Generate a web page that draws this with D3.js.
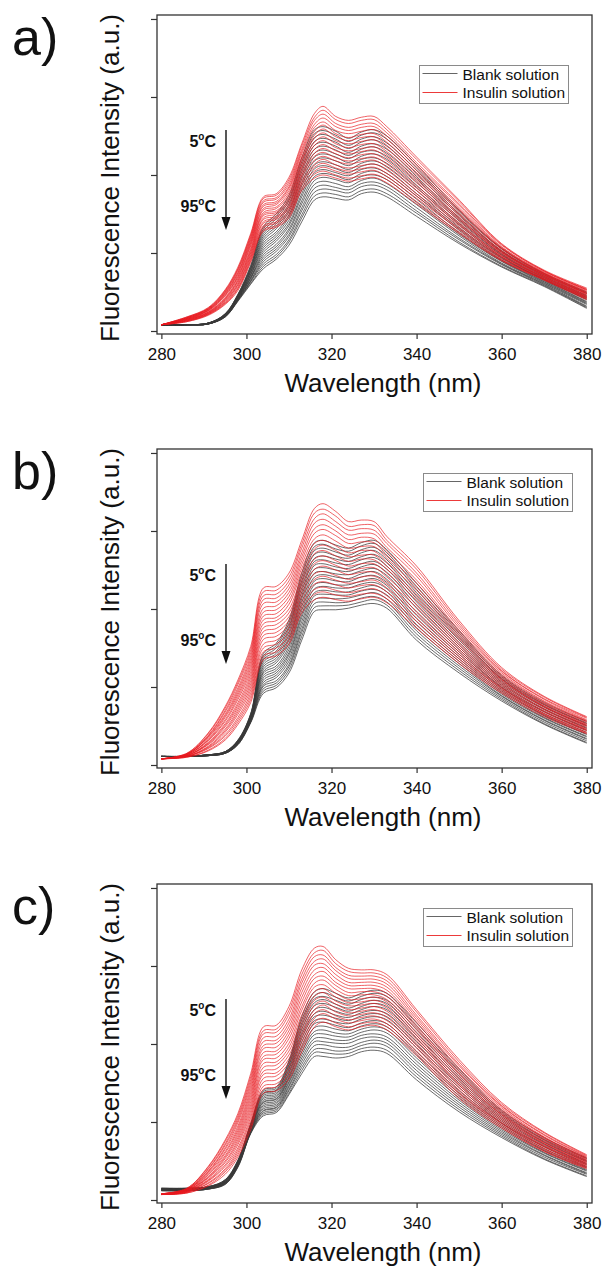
<!DOCTYPE html>
<html>
<head>
<meta charset="utf-8">
<script src="https://cdn.jsdelivr.net/npm/d3@7"></script>
<style>
  body { margin: 0; background: #fff; }
  svg { display: block; font-family: "Liberation Sans", Arial, sans-serif; }
</style>
</head>
<body>
<svg id="chart" width="604" height="1273"></svg>
<script>
const wavelengths = [280, 286, 291, 295, 298, 301, 304, 307, 310, 313, 316, 318, 321, 324, 327, 330, 333, 340, 350, 360, 370, 380];
// one spectrum per temperature, 5 -> 95 C
const temperatures = [5, 10, 15, 20, 25, 30, 35, 40, 45, 50, 55, 60, 65, 70, 75, 80, 85, 90, 95];
const xTicks = [280, 300, 320, 340, 360, 380];
const yTicks = [0, 100, 200, 300, 400];
const panelLabels = ["a)", "b)", "c)"];

// panel a
const blankA = [
  [8,8,10,22,47,84,134,150,174,222,258,262,256,247,255,258,250,213,155,106,74,50],
  [8,8,10,22,47,83,131,147,170,217,253,257,251,243,251,254,246,209,153,105,73,49],
  [8,8,10,22,46,81,128,144,167,213,248,252,246,238,246,249,241,206,150,103,72,48],
  [8,8,10,21,46,80,125,140,163,208,243,247,242,234,242,245,237,202,148,102,71,46],
  [8,8,10,21,45,79,122,137,160,204,238,242,237,229,237,240,233,198,145,101,70,45],
  [8,8,10,21,45,77,119,134,156,199,233,237,232,225,233,236,228,195,143,99,69,44],
  [8,8,10,21,44,76,116,131,153,195,228,232,227,221,229,231,224,191,141,98,68,43],
  [8,8,10,20,44,75,113,127,149,190,223,227,223,216,224,227,220,187,138,97,67,42],
  [8,8,10,20,43,73,110,124,146,186,218,222,218,212,220,222,215,184,136,95,66,41],
  [8,8,10,20,43,72,107,121,142,181,213,217,213,207,215,218,211,180,133,94,66,40],
  [8,8,9,20,42,71,104,118,138,176,208,212,208,203,211,214,207,176,131,93,65,38],
  [8,8,9,20,42,69,101,115,135,172,203,207,203,199,207,209,202,173,129,91,64,37],
  [8,8,9,19,41,68,98,111,131,167,198,202,199,194,202,205,198,169,126,90,63,36],
  [8,8,9,19,41,67,95,108,128,163,193,197,194,190,198,200,194,165,124,89,62,35],
  [8,8,9,19,40,65,92,105,124,158,188,192,189,185,193,196,189,162,122,87,61,34],
  [8,8,9,19,40,64,89,102,121,154,183,187,184,181,189,191,185,158,119,86,60,32],
  [8,8,9,18,39,63,86,98,117,149,178,182,180,177,185,187,181,154,117,85,59,31],
  [8,8,9,18,39,61,83,95,114,145,173,177,175,172,180,182,176,151,114,83,58,30],
  [8,8,9,18,38,60,80,92,110,140,168,172,170,168,176,178,172,147,112,82,57,29]
];
const insulinA = [
  [8,18,30,53,82,125,172,176,197,240,279,288,275,270,274,275,262,223,168,112,78,55],
  [8,18,29,52,80,123,170,174,194,237,274,283,271,266,270,271,258,220,166,111,77,54],
  [8,17,29,51,79,121,167,171,191,233,270,278,266,261,265,266,254,216,163,110,77,53],
  [8,17,28,50,77,119,165,169,188,230,265,273,262,257,261,262,250,213,161,108,76,53],
  [8,17,28,49,75,117,162,166,185,227,261,268,257,253,256,258,246,210,158,107,75,52],
  [8,16,27,48,74,115,160,164,183,223,256,264,253,248,252,253,242,206,156,106,74,51],
  [8,16,27,47,72,113,157,162,180,220,251,259,249,244,248,249,238,203,154,105,74,50],
  [8,16,26,46,70,111,155,159,177,217,247,254,244,240,243,245,234,200,151,103,73,49],
  [8,15,26,45,69,109,152,157,174,213,242,249,240,235,239,240,230,196,149,102,72,48],
  [8,15,25,43,67,106,150,154,171,210,238,244,235,231,234,236,226,193,146,101,72,48],
  [8,15,24,42,65,104,148,152,168,207,233,239,231,227,230,232,222,190,144,100,71,47],
  [8,14,24,41,64,102,145,150,165,203,228,234,227,222,226,227,218,186,142,99,70,46],
  [8,14,23,40,62,100,143,147,162,200,224,229,222,218,221,223,214,183,139,97,69,45],
  [8,14,23,39,60,98,140,145,159,197,219,224,218,214,217,219,210,180,137,96,69,44],
  [8,13,22,38,59,96,138,143,157,193,214,220,213,209,212,214,206,176,135,95,68,43],
  [8,13,22,37,57,94,135,140,154,190,210,215,209,205,208,210,202,173,132,94,67,43],
  [8,13,21,36,55,92,133,138,151,187,205,210,205,201,204,206,198,170,130,92,66,42],
  [8,12,21,35,54,90,130,135,148,183,201,205,200,196,199,201,194,166,127,91,66,41],
  [8,12,20,34,52,88,128,133,145,180,196,200,196,192,195,197,190,163,125,90,65,40]
];

// panel b
const blankB = [
  [11,11,13,17,32,66,143,156,186,246,285,288,282,278,285,288,276,233,172,115,80,56],
  [11,11,13,17,32,65,140,153,182,241,280,283,277,274,281,284,272,229,169,113,78,54],
  [11,11,13,17,31,65,137,150,178,236,275,278,273,269,276,279,268,225,166,111,77,53],
  [11,11,13,17,31,64,135,146,175,232,270,273,268,265,272,275,263,221,163,110,75,51],
  [11,11,13,17,31,63,132,143,171,227,265,268,264,261,267,270,259,217,160,108,74,50],
  [11,11,13,16,30,63,129,140,167,222,261,263,259,257,263,266,255,213,157,106,72,48],
  [11,11,13,16,30,62,126,137,163,217,256,258,254,252,258,261,251,209,154,104,71,47],
  [11,11,13,16,30,61,123,134,160,213,251,253,250,248,254,257,247,205,151,102,69,45],
  [11,11,13,16,29,61,120,131,156,208,246,248,245,244,249,252,243,201,148,100,68,44],
  [11,11,13,16,29,60,118,127,152,203,241,244,241,239,245,248,238,196,145,99,66,42],
  [11,11,12,16,29,59,115,124,148,198,236,239,236,235,241,243,234,192,142,97,64,40],
  [11,11,12,16,28,59,112,121,144,193,231,234,231,231,236,239,230,188,139,95,63,39],
  [11,11,12,16,28,58,109,118,141,189,226,229,227,227,232,234,226,184,136,93,61,37],
  [11,11,12,16,28,57,106,115,137,184,221,224,222,222,227,230,222,180,133,91,60,36],
  [11,11,12,15,27,57,103,112,133,179,217,219,218,218,223,225,218,176,130,89,58,34],
  [11,11,12,15,27,56,101,108,129,174,212,214,213,214,218,221,213,172,127,88,57,33],
  [11,11,12,15,27,55,98,105,126,170,207,209,208,209,214,216,209,168,124,86,55,31],
  [11,11,12,15,26,55,95,102,122,165,202,204,204,205,209,212,205,164,121,84,53,29],
  [11,11,12,15,26,54,92,99,118,160,197,199,199,201,205,207,201,160,118,82,52,28]
];
const insulinB = [
  [8,15,41,75,109,152,227,229,246,288,329,335,325,312,314,312,293,255,185,125,88,62],
  [8,15,40,73,106,148,222,224,241,283,323,328,319,306,308,307,288,251,182,123,87,61],
  [8,14,38,70,103,144,217,219,236,278,316,322,312,301,303,301,284,246,179,121,85,60],
  [8,14,37,68,99,140,212,214,231,272,310,315,306,295,297,296,279,242,176,120,84,58],
  [8,14,36,65,96,136,207,209,226,267,303,308,300,289,292,290,274,237,173,118,82,57],
  [8,14,35,63,93,132,201,204,221,262,297,302,294,284,286,285,269,233,170,116,81,56],
  [8,13,33,61,90,128,196,199,216,257,290,295,287,278,280,280,265,228,167,114,79,55],
  [8,13,32,58,87,124,191,194,211,252,284,288,281,272,275,274,260,224,164,112,78,53],
  [8,13,31,56,84,120,186,189,206,247,277,282,275,267,269,269,255,219,161,110,76,52],
  [8,12,29,53,80,116,181,185,200,241,271,275,268,261,264,263,251,215,157,109,75,51],
  [8,12,28,51,77,112,176,180,195,236,264,268,262,255,258,258,246,211,154,107,74,50],
  [8,12,27,49,74,108,171,175,190,231,258,262,256,250,252,253,241,206,151,105,72,49],
  [8,12,26,46,71,104,166,170,185,226,251,255,250,244,247,247,236,202,148,103,71,47],
  [8,11,24,44,68,100,161,165,180,221,245,248,243,238,241,242,232,197,145,101,69,46],
  [8,11,23,42,65,96,155,160,175,216,238,242,237,233,235,237,227,193,142,99,68,45],
  [8,11,22,39,61,92,150,155,170,210,232,235,231,227,230,231,222,188,139,98,66,44],
  [8,11,21,37,58,88,145,150,165,205,225,228,224,221,224,226,217,184,136,96,65,42],
  [8,10,19,34,55,84,140,145,160,200,219,222,218,216,219,220,213,179,133,94,64,41],
  [8,10,18,32,52,80,135,140,155,195,212,215,212,210,213,215,208,175,130,92,62,40]
];

// panel c
const blankC = [
  [15,15,17,26,51,98,141,145,179,235,267,271,265,259,265,269,265,227,168,115,80,54],
  [15,15,17,26,51,97,139,143,177,231,262,266,260,255,261,265,261,223,165,113,78,53],
  [15,15,17,25,50,97,137,141,174,227,258,261,256,251,257,260,256,219,162,111,77,51],
  [15,15,17,25,50,96,136,140,172,223,253,257,251,246,252,256,252,215,159,109,75,50],
  [14,14,16,25,49,95,134,138,169,219,249,252,247,242,248,252,248,211,156,107,74,49],
  [14,14,16,24,49,94,132,136,167,215,244,247,242,238,244,248,244,207,153,105,72,47],
  [14,14,16,24,48,94,130,134,164,211,239,242,237,234,240,243,239,203,150,103,71,46],
  [14,14,16,24,48,93,128,132,162,207,235,237,233,230,236,239,235,199,147,101,69,45],
  [14,14,16,23,47,92,126,130,159,203,230,232,228,226,232,235,231,195,144,99,68,43],
  [13,13,15,23,47,92,125,129,157,198,226,228,224,221,227,230,226,190,140,98,66,42],
  [13,13,15,23,46,91,123,127,155,194,221,223,219,217,223,226,222,186,137,96,64,41],
  [13,13,15,22,46,90,121,125,152,190,216,218,214,213,219,222,218,182,134,94,63,39],
  [13,13,15,22,45,89,119,123,150,186,212,213,210,209,215,218,214,178,131,92,61,38],
  [13,13,15,22,45,89,117,121,147,182,207,208,205,205,211,213,209,174,128,90,60,37],
  [13,13,15,21,44,88,115,119,145,178,203,203,201,201,207,209,205,170,125,88,58,35],
  [12,12,14,21,44,87,114,118,142,174,198,199,196,196,202,205,201,166,122,86,57,34],
  [12,12,14,21,43,86,112,116,140,170,193,194,191,192,198,201,197,162,119,84,55,33],
  [12,12,14,20,43,86,110,114,137,166,189,189,187,188,194,196,192,158,116,82,53,31],
  [12,12,14,20,42,85,108,112,135,162,184,184,182,184,190,192,188,154,113,80,52,30]
];
const insulinC = [
  [8,15,43,77,111,162,222,224,248,295,323,325,308,297,295,295,289,244,180,125,87,58],
  [8,15,42,75,108,158,217,219,243,289,317,320,303,293,291,291,285,241,177,123,86,57],
  [8,14,40,72,105,154,213,215,238,283,312,314,298,288,287,287,281,237,174,121,84,56],
  [8,14,39,70,102,150,208,210,232,278,306,309,294,284,283,283,277,234,172,120,83,55],
  [8,14,37,67,99,146,203,205,227,272,301,303,289,279,279,279,273,231,169,118,81,54],
  [8,13,36,65,95,142,198,201,222,266,295,298,284,275,275,275,269,228,166,116,80,53],
  [8,13,35,62,92,138,194,196,217,260,289,293,279,271,271,271,265,224,163,114,79,52],
  [8,13,33,60,89,134,189,191,212,254,284,287,275,266,267,267,261,221,161,112,77,51],
  [8,12,32,57,86,130,184,187,207,248,278,282,270,262,263,263,257,218,158,110,76,50],
  [7,12,30,55,83,126,180,182,201,243,273,276,265,257,258,260,254,214,155,109,74,49],
  [7,12,29,53,80,122,175,177,196,237,267,271,260,253,254,256,250,211,152,107,73,48],
  [7,11,28,50,77,118,170,173,191,231,261,266,255,249,250,252,246,208,149,105,72,47],
  [7,11,26,48,74,114,165,168,186,225,256,260,251,244,246,248,242,205,147,103,70,46],
  [7,11,25,45,71,110,161,163,181,219,250,255,246,240,242,244,238,201,144,101,69,45],
  [7,10,24,43,67,106,156,159,176,213,244,250,241,236,238,240,234,198,141,99,68,44],
  [7,10,22,40,64,102,151,154,170,208,239,244,236,231,234,236,230,195,138,98,66,43],
  [7,10,21,38,61,98,146,149,165,202,233,239,232,227,230,232,226,191,136,96,65,42],
  [7,9,19,36,58,94,142,145,160,196,228,233,227,222,226,228,222,188,133,94,63,41],
  [7,9,18,33,55,90,137,140,155,190,222,228,222,218,222,224,218,185,130,92,62,40]
];

var panels = [
  {label: panelLabels[0], top: 15,  blank: blankA, insulin: insulinA, legendX: 419, legendY: 50},
  {label: panelLabels[1], top: 449, blank: blankB, insulin: insulinB, legendX: 423, legendY: 24},
  {label: panelLabels[2], top: 884, blank: blankC, insulin: insulinC, legendX: 423, legendY: 24}
];

var svg = d3.select("#chart");
var frameL = 157, frameR = 592, frameH = 319;
var blankColor = "#383838", insulinColor = "#e8171d";

var x = d3.scaleLinear().domain([278.97, 381.24]).range([frameL, frameR]);
var y = d3.scaleLinear().domain([-3.85, 405.1]).range([frameH, 0]);

// smooth spline through the read-off points
var line = d3.line()
  .x(function(d, i) { return x(wavelengths[i]); })
  .y(function(d) { return y(d); })
  .curve(d3.curveCatmullRom.alpha(0.5));

panels.forEach(function(p) {
  var g = svg.append("g").attr("transform", "translate(0," + p.top + ")");

  // spectra: blank first, insulin over it
  g.append("g").selectAll("path")
    .data(p.blank)
    .enter().append("path")
    .attr("d", line)
    .attr("fill", "none")
    .attr("stroke", blankColor)
    .attr("stroke-width", 0.75);
  g.append("g").selectAll("path")
    .data(p.insulin)
    .enter().append("path")
    .attr("d", line)
    .attr("fill", "none")
    .attr("stroke", insulinColor)
    .attr("stroke-opacity", 0.9)
    .attr("stroke-width", 0.75);

  // frame
  g.append("rect")
    .attr("x", frameL).attr("y", 0)
    .attr("width", frameR - frameL).attr("height", frameH)
    .attr("fill", "none").attr("stroke", "#333").attr("stroke-width", 1.3);

  var xAxis = g.append("g")
    .attr("transform", "translate(0," + frameH + ")")
    .call(d3.axisBottom(x).tickValues(xTicks).tickSize(5).tickPadding(9));
  xAxis.select(".domain").remove();
  xAxis.selectAll("line").attr("stroke", "#333").attr("stroke-width", 1.2);
  xAxis.selectAll("text")
    .attr("font-size", 17)
    .attr("font-family", "Liberation Sans, Arial, sans-serif")
    .attr("fill", "#111");

  var yAxis = g.append("g")
    .attr("transform", "translate(" + frameL + ",0)")
    .call(d3.axisLeft(y).tickValues(yTicks).tickSize(6).tickFormat(""));
  yAxis.select(".domain").remove();
  yAxis.selectAll("line").attr("stroke", "#333").attr("stroke-width", 1.2);

  // axis titles
  g.append("text")
    .attr("x", 383).attr("y", frameH + 58)
    .attr("text-anchor", "middle")
    .attr("font-size", 26).attr("fill", "#111")
    .text("Wavelength (nm)");
  g.append("text")
    .attr("transform", "translate(119,163) rotate(-90)")
    .attr("text-anchor", "middle")
    .attr("font-size", 26).attr("fill", "#111")
    .text("Fluorescence Intensity (a.u.)");

  // panel letter
  g.append("text")
    .attr("x", 12).attr("y", 40)
    .attr("font-size", 52).attr("fill", "#111")
    .text(p.label);

  // temperature arrow
  g.append("line")
    .attr("x1", 226).attr("x2", 226)
    .attr("y1", 115).attr("y2", 204)
    .attr("stroke", "#111").attr("stroke-width", 1.4);
  g.append("path")
    .attr("d", "M221.5,202 L230.5,202 L226,215 Z")
    .attr("fill", "#111");

  [[temperatures[0], 132], [temperatures[temperatures.length - 1], 197]].forEach(function(t) {
    var lab = g.append("text")
      .attr("x", 216).attr("y", t[1])
      .attr("text-anchor", "end")
      .attr("font-size", 16).attr("font-weight", "bold").attr("fill", "#111");
    lab.append("tspan").text(t[0]);
    lab.append("tspan").attr("font-size", 10).attr("dy", -7).text("o");
    lab.append("tspan").attr("dy", 7).text("C");
  });

  // legend
  var lg = g.append("g").attr("transform", "translate(" + (p.legendX + 0.5) + "," + (p.legendY + 0.5) + ")");
  lg.append("rect")
    .attr("width", 149).attr("height", 38)
    .attr("fill", "#fff").attr("stroke", "#8a8a8a").attr("stroke-width", 1);
  [["Blank solution", "#666", 8, 14], ["Insulin solution", "#ec3a3a", 27, 32.5]].forEach(function(e) {
    lg.append("line")
      .attr("x1", 3).attr("x2", 38)
      .attr("y1", e[2]).attr("y2", e[2])
      .attr("stroke", e[1]).attr("stroke-width", 1.1);
    lg.append("text")
      .attr("x", 43).attr("y", e[3])
      .attr("font-size", 15.5).attr("fill", "#111")
      .text(e[0]);
  });
});
</script>
</body>
</html>
